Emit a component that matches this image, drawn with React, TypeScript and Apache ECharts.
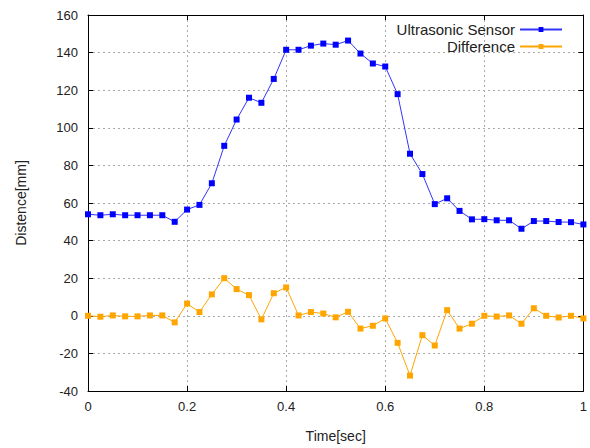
import React, { useEffect, useRef } from "react";
import * as echarts from "echarts";

const times: number[] = Array.from({ length: 41 }, (_, i) => +(i * 0.025).toFixed(3));

const ultrasonic: number[] = [
  54, 53.5, 54, 53.5, 53.5, 53.5, 53.5, 50,
  56.5, 59, 70.5, 90.4, 104.4, 116, 113.3, 126,
  141.5, 141.5, 143.7, 144.8, 144.2, 146.4, 139.5, 134.2,
  132.6, 117.9, 86.2, 75.4, 59.4, 62.5, 55.8, 51.3,
  51.4, 50.8, 50.8, 46.3, 50.4, 50.4, 49.9, 49.8,
  48.6,
];

const difference: number[] = [
  0, -0.5, 0.2, -0.3, -0.3, 0.2, 0.2, -3.5,
  6.5, 2, 11.4, 20, 14.2, 11, -1.9, 12,
  15.1, 0.2, 2, 1.2, -0.8, 2.1, -6.8, -5.3,
  -1.4, -14.4, -31.8, -10.3, -15.8, 3, -6.8, -4.2,
  0, -0.4, 0.2, -4.2, 4, 0, -0.9, 0,
  -1.4,
];

const seriesNames = ["Ultrasonic Sensor", "Difference"];
const xName = "Time[sec]";
const yName = "Distence[mm]";

export default function App() {
  const ref = useRef<HTMLDivElement>(null);
  useEffect(() => {
    if (!ref.current) return;
    const chart = echarts.init(ref.current, undefined, { renderer: "svg" });
    const font = "Liberation Sans, Arial, sans-serif";
    const textColor = "#222";
    const mk = (vals: number[]) => times.map((t, i) => [t, vals[i]]);
    chart.setOption({
      animation: false,
      backgroundColor: "#fff",
      textStyle: { fontFamily: font },
      grid: { left: 88, right: 5, top: 15, bottom: 56, show: false },
      legend: {
        orient: "vertical",
        right: 22,
        top: 17,
        align: "right",
        itemWidth: 42,
        itemHeight: 6,
        itemGap: 2,
        textStyle: { fontFamily: font, fontSize: 15, color: textColor },
        data: seriesNames,
      },
      xAxis: [
        {
          type: "value",
          min: 0,
          max: 1,
          interval: 0.2,
          name: xName,
          nameLocation: "middle",
          nameGap: 38,
          nameTextStyle: { fontFamily: font, fontSize: 14, color: textColor },
          axisLine: { show: true, onZero: false, lineStyle: { color: "#000", width: 1 } },
          axisTick: { show: true, inside: true, length: 5, lineStyle: { color: "#000" } },
          axisLabel: { fontFamily: font, fontSize: 13, color: textColor, margin: 9 },
          splitLine: { show: true, lineStyle: { color: "#aaa", type: [2, 3], width: 1 } },
        },
        {
          type: "value",
          position: "top",
          min: 0,
          max: 1,
          interval: 0.2,
          axisLine: { show: true, onZero: false, lineStyle: { color: "#000", width: 1 } },
          axisTick: { show: true, inside: true, length: 5, lineStyle: { color: "#000" } },
          axisLabel: { show: false },
          splitLine: { show: false },
        },
      ],
      yAxis: [
        {
          type: "value",
          min: -40,
          max: 160,
          interval: 20,
          name: yName,
          nameLocation: "middle",
          nameGap: 60,
          nameRotate: 90,
          nameTextStyle: { fontFamily: font, fontSize: 14, color: textColor },
          axisLine: { show: true, onZero: false, lineStyle: { color: "#000", width: 1 } },
          axisTick: { show: true, inside: true, length: 5, lineStyle: { color: "#000" } },
          axisLabel: { fontFamily: font, fontSize: 13, color: textColor, margin: 10 },
          splitLine: { show: true, lineStyle: { color: "#aaa", type: [2, 3], width: 1 } },
        },
        {
          type: "value",
          position: "right",
          min: -40,
          max: 160,
          interval: 20,
          axisLine: { show: true, onZero: false, lineStyle: { color: "#000", width: 1 } },
          axisTick: { show: true, inside: true, length: 5, lineStyle: { color: "#000" } },
          axisLabel: { show: false },
          splitLine: { show: false },
        },
      ],
      series: [
        {
          name: seriesNames[0],
          type: "line",
          data: mk(ultrasonic),
          symbol: "rect",
          symbolSize: 6,
          itemStyle: { color: "#0000ff" },
          lineStyle: { color: "#3333ff", width: 1 },
        },
        {
          name: seriesNames[1],
          type: "line",
          data: mk(difference),
          symbol: "rect",
          symbolSize: 6,
          itemStyle: { color: "#ffa500" },
          lineStyle: { color: "#ffa500", width: 1 },
        },
      ],
    });
    return () => chart.dispose();
  }, []);
  return (
    <div
      ref={ref}
      style={{ position: "fixed", left: 0, top: 0, width: 590, height: 448, background: "#fff" }}
    />
  );
}
